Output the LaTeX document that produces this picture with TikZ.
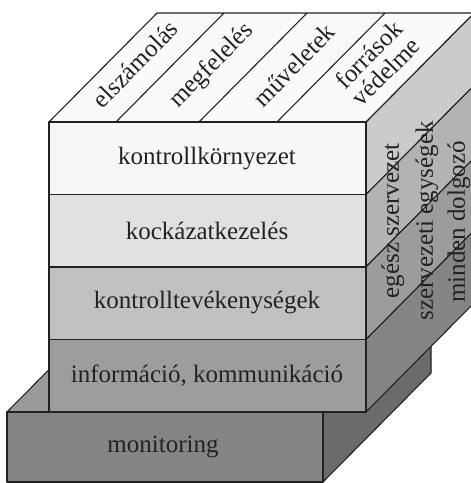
\documentclass[tikz,border=0pt]{standalone}
\usepackage{fontspec}
\setmainfont{Liberation Serif}
\definecolor{cTop}{HTML}{FAFAFA}
\definecolor{cF1}{HTML}{F7F7F7}
\definecolor{cF2}{HTML}{E1E1E1}
\definecolor{cF3}{HTML}{C1C1C1}
\definecolor{cF4}{HTML}{9D9D9D}
\definecolor{cF5}{HTML}{858585}
\definecolor{cR1}{HTML}{CBCBCB}
\definecolor{cR2}{HTML}{B3B3B3}
\definecolor{cR3}{HTML}{9C9C9C}
\definecolor{cR4}{HTML}{858585}
\definecolor{cR5}{HTML}{6B6B6B}
\definecolor{cT5}{HTML}{9A9A9A}
\definecolor{ink}{HTML}{222222}
\begin{document}
\begin{tikzpicture}[x=1pt,y=-1pt,
  edge/.style={draw=ink, line width=1.1pt, line join=round},
  lbl/.style={font=\fontsize{25}{27}\selectfont, text=ink, inner sep=0pt},
  toplbl/.style={font=\fontsize{25}{24}\selectfont, text=ink, inner sep=0pt, rotate=45.3, align=center},
  sidelbl/.style={font=\fontsize{25}{27}\selectfont, text=ink, inner sep=0pt, rotate=90}]
\useasboundingbox (0,0) rectangle (471,483);
\clip (0,0) rectangle (471,483);
\def\dx{108}
\def\dy{109}
% monitoring box
\path[edge, fill=cT5] (7,412) -- (7+\dx,412-\dy) -- (323+\dx,412-\dy) -- (323,412) -- cycle;
\path[edge, fill=cR5] (323,412) -- (323+\dx,412-\dy) -- (323+\dx,482-\dy) -- (323,482) -- cycle;
\path[edge, fill=cF5] (7,412) rectangle (323,482);
% right faces of main cube
\foreach \a/\b/\c in {122/194.5/cR1, 194.5/267/cR2, 267/339.5/cR3, 339.5/412/cR4}
  \path[edge, fill=\c] (366,\a) -- (366+\dx,\a-\dy) -- (366+\dx,\b-\dy) -- (366,\b) -- cycle;
% top face
\path[edge, fill=cTop] (49,122) -- (49+\dx,122-\dy) -- (366+\dx,122-\dy) -- (366,122) -- cycle;
\foreach \u in {116,199,277}
  \draw[edge] (\u,122) -- (\u+\dx,122-\dy);
% front faces
\foreach \a/\b/\c in {122/194.5/cF1, 194.5/267/cF2, 267/339.5/cF3, 339.5/412/cF4}
  \path[edge, fill=\c] (49,\a) rectangle (366,\b);
% front labels
\node[lbl] (l1) at (207,159) {kontrollkörnyezet};
\node[lbl] (l2) at (207,231) {kockázatkezelés};
\node[lbl] (l3) at (207,303) {kontrolltevékenységek};
\node[lbl] (l4) at (207,376) {információ, kommunikáció};
\node[lbl] (l5) at (163,447) {monitoring};
% top labels
\node[toplbl] (t1) at (135,64) {elszámolás};
\node[toplbl] (t2) at (212,66) {megfelelés};
\node[toplbl] (t3) at (294,65) {műveletek};
\node[toplbl] (t4) at (377,63) {források\\védelme};
% side labels
\node[sidelbl] (s1) at (393,221) {egész szervezet};
\node[sidelbl] (s2) at (427,221) {szervezeti egységek};
\node[sidelbl] (s3) at (459,222) {minden dolgozó};
\end{tikzpicture}
\end{document}
